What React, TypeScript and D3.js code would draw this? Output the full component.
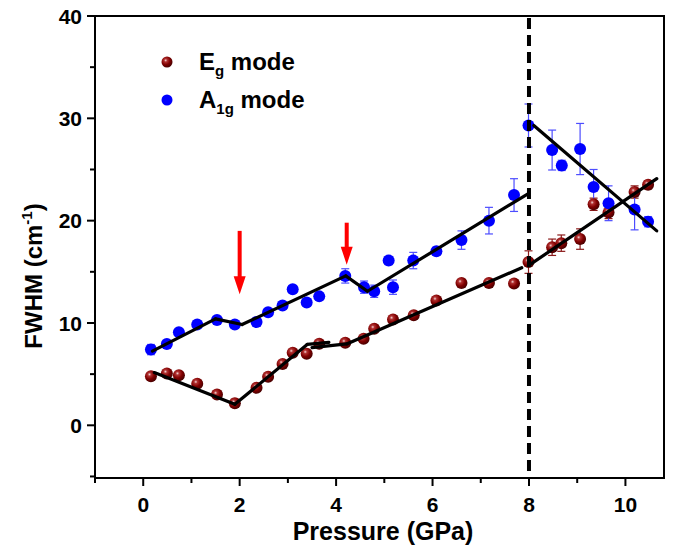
import React from "react";
import * as d3 from "d3";

const egX = [0.16,0.49,0.74,1.12,1.53,1.9,2.35,2.59,2.89,3.1,3.39,3.65,4.19,4.57,4.79,5.18,5.61,6.08,6.6,7.17,7.69,7.99,8.48,8.67,9.06,9.34,9.65,10.19,10.47];
const egY = [4.8,5.07,4.9,4.07,3.0,2.15,3.67,4.75,6.0,7.1,7.0,7.97,8.07,8.46,9.43,10.34,10.76,12.2,13.9,13.9,13.85,15.95,17.4,17.8,18.2,21.6,20.8,22.8,23.5];
const egErr = [0.3,0.3,0.3,0.3,0.3,0.4,0.3,0.3,0.3,0.3,0.3,0.3,0.3,0.3,0.3,0.3,0.3,0.3,0.3,0.3,0.3,1.1,0.8,0.8,1.0,0.6,0.6,0.6,0.4];

const a1gX = [0.16,0.49,0.74,1.12,1.53,1.9,2.35,2.59,2.89,3.1,3.39,3.65,4.19,4.58,4.79,5.09,5.18,5.6,6.08,6.6,7.17,7.69,7.99,8.48,8.68,9.06,9.34,9.65,10.19,10.47];
const a1gY = [7.4,7.95,9.1,9.85,10.3,9.85,10.1,11.05,11.7,13.3,12.0,12.6,14.6,13.5,13.1,16.1,13.5,16.1,17.0,18.1,20.0,22.5,29.3,26.9,25.4,27.0,23.3,21.7,21.1,19.9];
const a1gErr = [0.5,0.3,0.3,0.3,0.3,0.3,0.4,0.3,0.3,0.3,0.3,0.3,0.7,0.6,0.6,0.4,0.7,0.8,0.4,0.9,1.3,1.6,2.1,1.95,0.5,2.5,1.7,1.7,2.0,0.5];

// fit segments [x1, y1, x2, y2]
const a1gFits = [
  [0.19, 7.25, 1.5, 10.4],
  [1.5, 10.4, 2.05, 9.85],
  [2.05, 9.85, 4.2, 14.6],
  [4.2, 14.6, 4.65, 13.1],
  [4.65, 13.1, 7.97, 22.6],
  [8.1, 29.3, 10.65, 19.0],
];
const egFits = [
  [0.23, 5.15, 1.9, 2.05],
  [1.9, 2.05, 3.4, 7.9],
  [3.4, 7.9, 3.85, 8.1],
  [3.5, 7.6, 4.22, 7.95],
  [4.22, 7.95, 7.85, 15.4],
  [8.05, 15.8, 10.65, 24.1],
];

const arrowX = [2.0, 4.22];
const arrowTop = [19.0, 19.8];
const arrowTip = [12.8, 15.7];
const transitionP = 8;

const xMajor = [0, 2, 4, 6, 8, 10];
const xMinor = [-1, 1, 3, 5, 7, 9];
const yMajor = [0, 10, 20, 30, 40];
const yMinor = [-5, 5, 15, 25, 35];

const FONT = "'Liberation Sans', Arial, Helvetica, sans-serif";

export default function App() {
  const W = 673, H = 552;
  const left = 95, right = 664, top = 16, bottom = 478;
  const x = d3.scaleLinear().domain([-1, 10.8]).range([left, right]);
  const y = d3.scaleLinear().domain([-5.15, 40]).range([bottom, top]);
  const r = 6;
  const cap = 4;

  const seg = (s: number[], i: number, key: string) => (
    <line key={key + i} x1={x(s[0])} y1={y(s[1])} x2={x(s[2])} y2={y(s[3])}
      stroke="#000" strokeWidth={3.2} strokeLinecap="round" />
  );

  const errBars = (xs: number[], ys: number[], es: number[], color: string, key: string) =>
    xs.map((xv, i) => {
      const cx = x(xv), y1 = y(ys[i] + es[i]), y2 = y(ys[i] - es[i]);
      return (
        <g key={key + i} stroke={color} strokeWidth={1.2}>
          <line x1={cx} x2={cx} y1={y1} y2={y2} />
          <line x1={cx - cap} x2={cx + cap} y1={y1} y2={y1} />
          <line x1={cx - cap} x2={cx + cap} y1={y2} y2={y2} />
        </g>
      );
    });

  return (
    <svg width={W} height={H} style={{ position: "absolute", left: 0, top: 0, background: "#fff" }}
      fontFamily={FONT}>
      <defs>
        <radialGradient id="sphere" cx="0.38" cy="0.35" r="0.65">
          <stop offset="0" stopColor="#f3d6d6" />
          <stop offset="0.22" stopColor="#b03030" />
          <stop offset="0.6" stopColor="#800000" />
          <stop offset="1" stopColor="#4a0000" />
        </radialGradient>
      </defs>
      <rect x={0} y={0} width={W} height={H} fill="#fff" />

      {/* error bars */}
      {errBars(egX, egY, egErr, "#8b1a1a", "eE")}
      {errBars(a1gX, a1gY, a1gErr, "#4d4dff", "aE")}

      {/* points */}
      {egX.map((xv, i) => (
        <circle key={"e" + i} cx={x(xv)} cy={y(egY[i])} r={r} fill="url(#sphere)" />
      ))}
      {a1gX.map((xv, i) => (
        <circle key={"a" + i} cx={x(xv)} cy={y(a1gY[i])} r={r} fill="#0000ff" />
      ))}

      {/* fits */}
      {a1gFits.map((s, i) => seg(s, i, "af"))}
      {egFits.map((s, i) => seg(s, i, "ef"))}

      {/* transition line */}
      <line x1={x(transitionP)} x2={x(transitionP)} y1={top + 2} y2={bottom}
        stroke="#000" strokeWidth={4} strokeDasharray="11,6" />

      {/* arrows */}
      {arrowX.map((ax, i) => {
        const cx = x(ax), yt = y(arrowTop[i]), yp = y(arrowTip[i]);
        return (
          <g key={"ar" + i} fill="#ff0000" stroke="none">
            <rect x={cx - 2} y={yt} width={4} height={yp - yt - 16} />
            <path d={`M${cx - 6},${yp - 18} L${cx + 6},${yp - 18} L${cx},${yp} Z`} />
          </g>
        );
      })}

      {/* frame */}
      <rect x={left} y={top} width={right - left} height={bottom - top} fill="none" stroke="#000" strokeWidth={2} />

      {/* x ticks */}
      {xMajor.map((v) => (
        <g key={"xt" + v}>
          <line x1={x(v)} x2={x(v)} y1={bottom} y2={bottom + 8} stroke="#000" strokeWidth={2} />
          <text x={x(v)} y={512} textAnchor="middle" fontSize={21} fontWeight="bold">{v}</text>
        </g>
      ))}
      {xMinor.map((v) => (
        <line key={"xm" + v} x1={x(v)} x2={x(v)} y1={bottom} y2={bottom + 5} stroke="#000" strokeWidth={2} />
      ))}

      {/* y ticks */}
      {yMajor.map((v) => (
        <g key={"yt" + v}>
          <line x1={left - 8} x2={left} y1={y(v)} y2={y(v)} stroke="#000" strokeWidth={2} />
          <text x={82} y={y(v)} dy="0.36em" textAnchor="end" fontSize={21} fontWeight="bold">{v}</text>
        </g>
      ))}
      {yMinor.map((v) => (
        <line key={"ym" + v} x1={left - 5} x2={left} y1={y(v)} y2={y(v)} stroke="#000" strokeWidth={2} />
      ))}

      {/* axis titles */}
      <text x={383} y={540} textAnchor="middle" fontSize={25} fontWeight="bold">Pressure (GPa)</text>
      <text transform="translate(42,276) rotate(-90)" textAnchor="middle" fontSize={24} fontWeight="bold">
        FWHM (cm<tspan fontSize={15} dy={-10}>-1</tspan><tspan dy={10}>)</tspan>
      </text>

      {/* legend */}
      <circle cx={167} cy={62} r={5.5} fill="url(#sphere)" />
      <text x={199} y={70} fontSize={24} fontWeight="bold">
        E<tspan fontSize={15} dy={6}>g</tspan><tspan dy={-6}> mode</tspan>
      </text>
      <circle cx={167} cy={100} r={5.5} fill="#0000ff" />
      <text x={199} y={108} fontSize={24} fontWeight="bold">
        A<tspan fontSize={15} dy={6}>1g</tspan><tspan dy={-6}> mode</tspan>
      </text>
    </svg>
  );
}
